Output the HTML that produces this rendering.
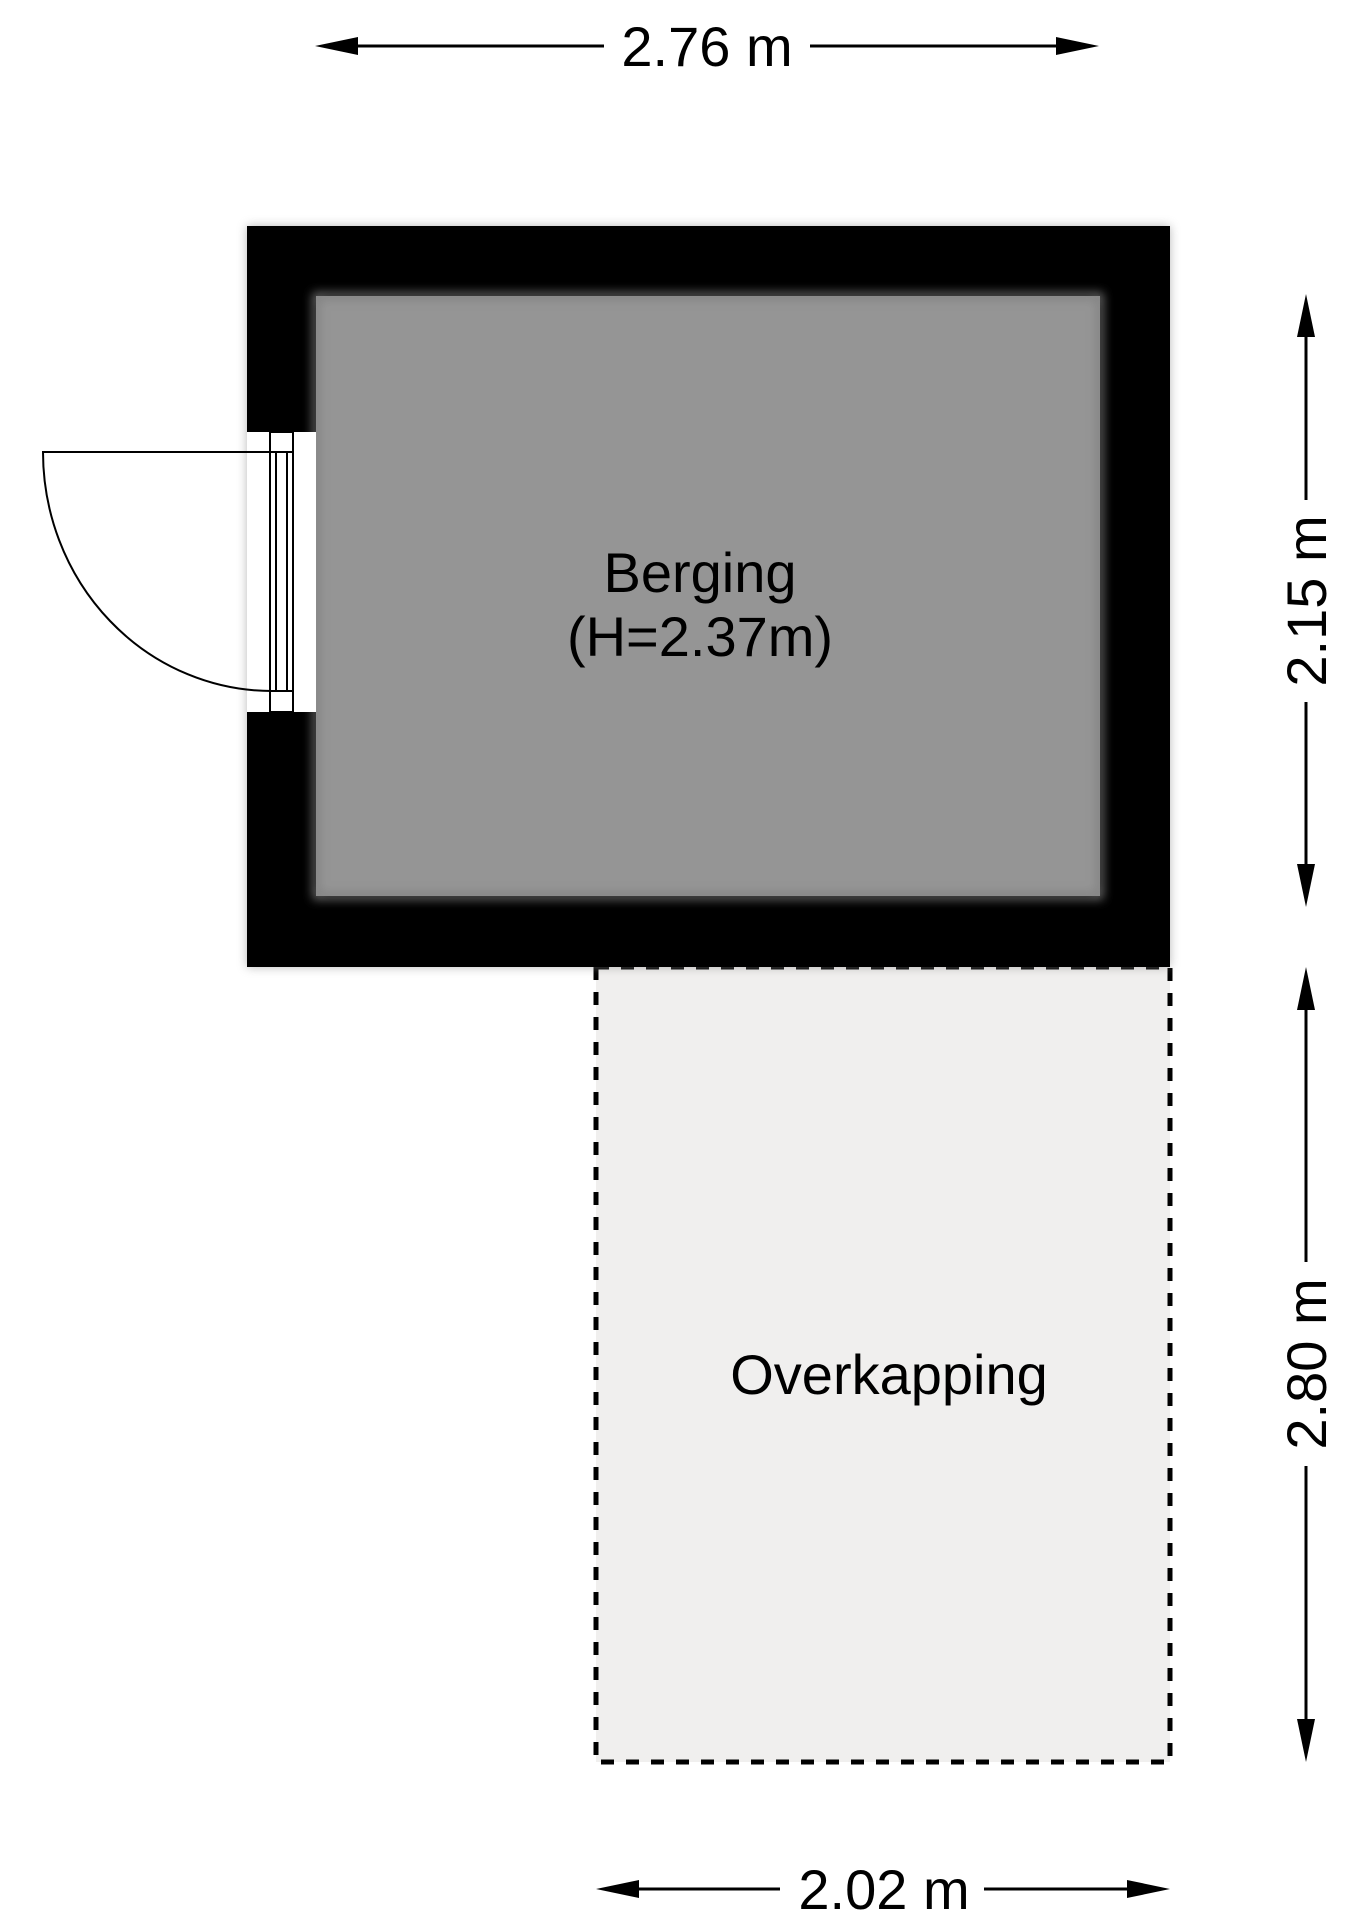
<!DOCTYPE html>
<html><head><style>
html,body{margin:0;padding:0;background:#fff;}
svg{display:block;}
text{font-family:"Liberation Sans",sans-serif;fill:#000;}
</style></head><body>
<svg width="1358" height="1920" viewBox="0 0 1358 1920" xmlns="http://www.w3.org/2000/svg">
<defs>
<filter id="sh" x="-5%" y="-5%" width="110%" height="110%"><feGaussianBlur stdDeviation="5"/></filter>
</defs>
<!-- overkapping -->
<rect x="596" y="967" width="574" height="795" fill="#f0efee" stroke="#000" stroke-width="5" stroke-dasharray="13,12"/>
<!-- wall -->
<rect x="247" y="226" width="923" height="741" fill="#888" filter="url(#sh)" opacity="0.6"/>
<rect x="247" y="226" width="923" height="741" fill="#000"/>
<rect x="316" y="296" width="784" height="600" fill="#959595"/>
<rect x="316" y="296" width="784" height="600" fill="none" stroke="#7e7e7e" stroke-width="6" filter="url(#sh)"/>
<!-- door opening -->
<rect x="247" y="432" width="69" height="280" fill="#fff"/>
<rect x="270" y="432" width="23" height="280" fill="#fff" stroke="#000" stroke-width="2"/>
<line x1="270" y1="452" x2="293" y2="452" stroke="#000" stroke-width="2"/>
<line x1="270" y1="691" x2="293" y2="691" stroke="#000" stroke-width="2"/>
<line x1="276" y1="452" x2="276" y2="691" stroke="#000" stroke-width="2"/>
<line x1="287" y1="452" x2="287" y2="691" stroke="#000" stroke-width="2"/>
<path d="M270,452 L43,452 A229,239 0 0 0 272,691" fill="none" stroke="#000" stroke-width="2"/>
<!-- labels -->
<text x="700" y="592" font-size="56" text-anchor="middle">Berging</text>
<text x="700" y="656" font-size="56" text-anchor="middle">(H=2.37m)</text>
<text x="889" y="1394" font-size="56" text-anchor="middle">Overkapping</text>
<!-- top dim -->
<line x1="604" y1="46" x2="340" y2="46" stroke="#000" stroke-width="3"/>
<path d="M315,46 L358,37 L358,55 z"/>
<line x1="810" y1="46" x2="1075" y2="46" stroke="#000" stroke-width="3"/>
<path d="M1099,46 L1056,37 L1056,55 z"/>
<text x="707" y="66" font-size="56" text-anchor="middle">2.76 m</text>
<!-- bottom dim -->
<line x1="780" y1="1889" x2="620" y2="1889" stroke="#000" stroke-width="3"/>
<path d="M596,1889 L639,1880 L639,1898 z"/>
<line x1="984" y1="1889" x2="1146" y2="1889" stroke="#000" stroke-width="3"/>
<path d="M1170,1889 L1127,1880 L1127,1898 z"/>
<text x="884" y="1909" font-size="56" text-anchor="middle">2.02 m</text>
<!-- right dim upper -->
<line x1="1306" y1="500" x2="1306" y2="318" stroke="#000" stroke-width="3"/>
<path d="M1306,294 L1297,337 L1315,337 z"/>
<line x1="1306" y1="702" x2="1306" y2="883" stroke="#000" stroke-width="3"/>
<path d="M1306,907 L1297,864 L1315,864 z"/>
<text transform="translate(1326,601) rotate(-90)" x="0" y="0" font-size="56" text-anchor="middle">2.15 m</text>
<!-- right dim lower -->
<line x1="1306" y1="1262" x2="1306" y2="991" stroke="#000" stroke-width="3"/>
<path d="M1306,967 L1297,1010 L1315,1010 z"/>
<line x1="1306" y1="1466" x2="1306" y2="1738" stroke="#000" stroke-width="3"/>
<path d="M1306,1762 L1297,1719 L1315,1719 z"/>
<text transform="translate(1326,1364) rotate(-90)" x="0" y="0" font-size="56" text-anchor="middle">2.80 m</text>
</svg>
</body></html>
